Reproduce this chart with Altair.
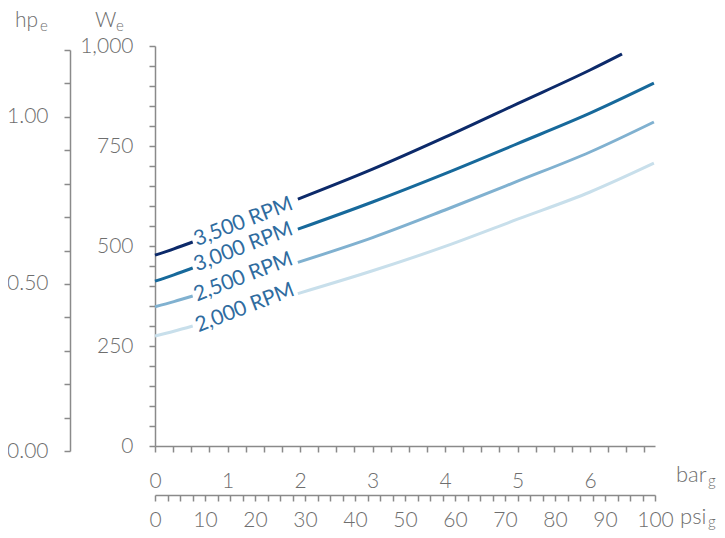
import altair as alt
import pandas as pd

# ---- data ----
SERIES = ["3,500 RPM", "3,000 RPM", "2,500 RPM", "2,000 RPM"]
COLORS = ["#0c2a6a", "#17699b", "#80b1d0", "#c8dfeb"]

BAR_A = [0.0, 0.26, 0.52]                       # segment before the label
BAR_B = [1.97, 3.0, 4.0, 5.0, 6.0, 6.88]         # segment after the label
BAR_B_3500 = [1.97, 3.0, 4.0, 5.0, 6.0, 6.44]

W_3500_A = [477, 493, 510]
W_3500_B = [617, 692, 772, 856, 940, 980]
W_3000_A = [412, 428, 445]
W_3000_B = [542, 610, 681, 756, 832, 907]
W_2500_A = [348, 361, 375]
W_2500_B = [459, 521, 590, 662, 735, 810]
W_2000_A = [275, 287, 300]
W_2000_B = [381, 438, 499, 567, 635, 707]

LABEL_BAR = [1.22, 1.22, 1.22, 1.24]
LABEL_W = [560, 497, 422, 345]

BAR_MAX = 6.895   # = 100 psi
PSI_MAX = 100
HP_MAX = 1.2

rows = []
series_data = [
    (SERIES[0], BAR_A, W_3500_A, BAR_B_3500, W_3500_B),
    (SERIES[1], BAR_A, W_3000_A, BAR_B, W_3000_B),
    (SERIES[2], BAR_A, W_2500_A, BAR_B, W_2500_B),
    (SERIES[3], BAR_A, W_2000_A, BAR_B, W_2000_B),
]
for name, ba, wa, bb, wb in series_data:
    for b, w in zip(ba, wa):
        rows.append({"series": name, "seg": name + "A", "bar": b, "W": w})
    for b, w in zip(bb, wb):
        rows.append({"series": name, "seg": name + "B", "bar": b, "W": w})
df = pd.DataFrame(rows)
labels = pd.DataFrame({"series": SERIES, "bar": LABEL_BAR, "W": LABEL_W})

FONT = "Lato"
AX_COLOR = "#8a8a8a"
LBL_COLOR = "#6e6e6e"
common_axis = dict(
    grid=False, title=None, domainColor=AX_COLOR, tickColor=AX_COLOR,
    domainWidth=1.5, tickWidth=1.5, tickSize=6, labelColor=LBL_COLOR,
    labelFont=FONT, labelFontSize=21, labelFontWeight=300,
    labelOverlap=False, labelFlush=False,
)

x_bar = alt.X(
    "bar:Q",
    scale=alt.Scale(domain=[0, BAR_MAX], nice=False, zero=False),
    axis=alt.Axis(
        values=[i * 0.25 for i in range(28)],
        labelExpr="datum.value % 1 == 0 ? format(datum.value, 'd') : ''",
        labelPadding=18, **common_axis,
    ),
)
y_w = alt.Y(
    "W:Q",
    scale=alt.Scale(domain=[0, 1000], nice=False),
    axis=alt.Axis(
        values=list(range(0, 1001, 50)),
        labelExpr="datum.value % 250 == 0 ? format(datum.value, ',') : ''",
        labelPadding=16, **common_axis,
    ),
)

lines = alt.Chart(df).mark_line(strokeWidth=3, interpolate="monotone").encode(
    x=x_bar, y=y_w,
    color=alt.Color("series:N", scale=alt.Scale(domain=SERIES, range=COLORS), legend=None),
    detail="seg:N",
)

text = alt.Chart(labels).mark_text(
    font=FONT, fontSize=21, angle=339, align="center",
    baseline="middle", color="#2f6c9f"
).encode(x=x_bar, y=y_w, text="series:N")


def title_txt(s, x, y, size):
    return alt.Chart(pd.DataFrame({"a": [0]})).mark_text(
        text=s, font=FONT, fontSize=size, fontWeight=300, align="left",
        baseline="alphabetic", color=LBL_COLOR
    ).encode(x=alt.value(x), y=alt.value(y))


titles = [
    title_txt("hp", -140, -19, 21),
    title_txt("e", -115, -15, 15),
    title_txt("W", -60, -19, 21),
    title_txt("e", -39, -15, 15),
    title_txt("bar", 521, 436, 22),
    title_txt("g", 553, 440, 15),
    title_txt("psi", 525, 478, 22),
    title_txt("g", 553, 481, 15),
]

main = alt.layer(lines, text, *titles)

hp_layer = alt.Chart(pd.DataFrame({"hp": [0, HP_MAX]})).mark_point(opacity=0).encode(
    y=alt.Y(
        "hp:Q",
        scale=alt.Scale(domain=[0, HP_MAX], range=[405, 4], nice=False),
        axis=alt.Axis(
            orient="left", offset=85,
            values=[round(i * 0.1, 1) for i in range(13)],
            labelExpr="abs(datum.value*2 - round(datum.value*2)) < 0.001 ? format(datum.value, '.2f') : ''",
            labelPadding=16, **common_axis,
        ),
    )
)

psi_layer = alt.Chart(pd.DataFrame({"psi": [0, PSI_MAX]})).mark_point(opacity=0).encode(
    x=alt.X(
        "psi:Q",
        scale=alt.Scale(domain=[0, PSI_MAX], nice=False),
        axis=alt.Axis(
            orient="bottom", offset=49,
            values=[i * 2.5 for i in range(41)],
            labelExpr="datum.value % 10 == 0 ? format(datum.value, 'd') : ''",
            labelPadding=8, **common_axis,
        ),
    )
)

chart = alt.layer(main, hp_layer, psi_layer).resolve_scale(
    x="independent", y="independent"
).properties(
    width=500, height=400,
    autosize=alt.AutoSizeParams(type="none"),
    padding={"left": 147, "top": 38, "right": 62, "bottom": 84},
).configure_view(stroke=None)

chart.save("out.html", embed_options={"renderer": "svg", "actions": False})
